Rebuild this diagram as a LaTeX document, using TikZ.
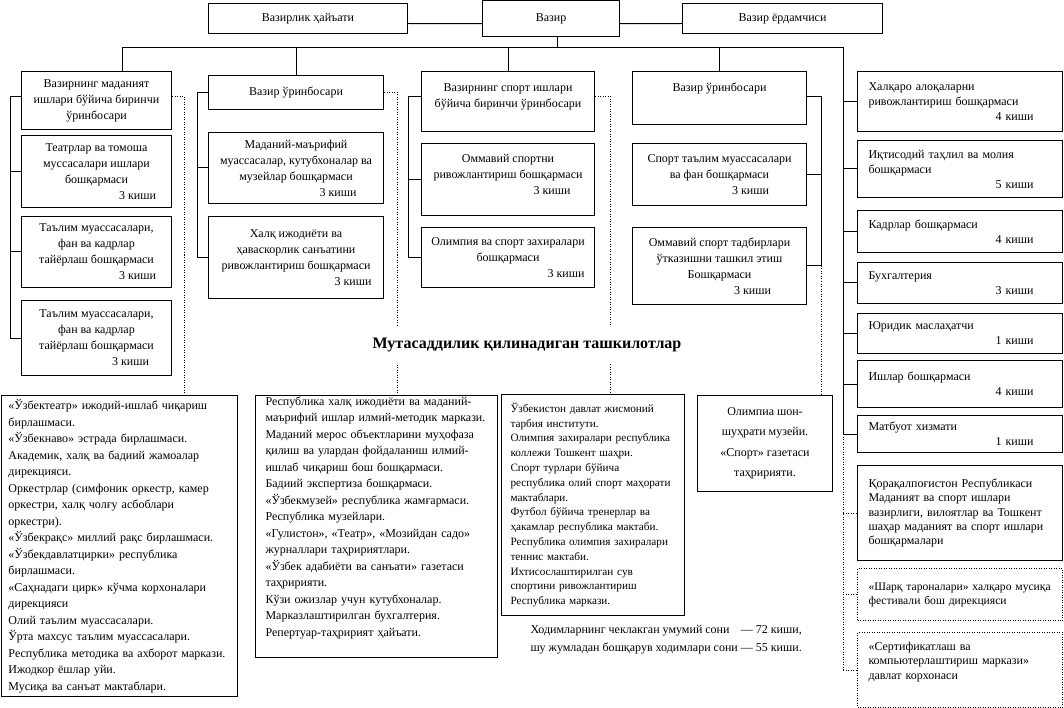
\documentclass[tikz,border=0pt]{standalone}
\usepackage{fontspec}
\setmainfont{Liberation Serif}
% last line with head count, shifted right of the centre
\newcommand{\kishi}[2]{\\\hspace*{#1pt}#2~киши}
% last line with head count, pushed to the right
\newcommand{\rkishi}[1]{\\\hspace*{0pt plus 1filll}#1~киши\hspace*{18pt}\null}

\begin{document}
\begin{tikzpicture}[x=1pt, y=-1pt, line width=1pt,
    font=\fontsize{12}{16}\selectfont,
    box/.style={draw, anchor=north west, inner sep=0pt, align=center},
    sz/.style 2 args={minimum width=#1pt, minimum height=#2pt},
    rbox/.style={box, align=left, inner xsep=11pt, text width=183pt,
      minimum width=205pt, font=\fontsize{12}{15}\selectfont},
    lbox/.style={box, align=left, font=\fontsize{12}{16.5}\selectfont},
    dotline/.style={dash pattern=on 1pt off 1.5pt},
    dotbox/.style={rbox, dotline}]
  \useasboundingbox (0,0) rectangle (1064,708);

  % top row
  \node[box, sz={199}{30}] (hayat) at (208,3) {Вазирлик ҳайъати};
  \node[box, sz={137}{35.5}] (vazir) at (482,0.5) {Вазир};
  \node[box, sz={200}{30}] (yordam) at (682,3) {Вазир ёрдамчиси};

  % first deputy, culture
  \node[box, sz={150}{58}] (b1) at (21,71) {Вазирнинг маданият\\ишлари бўйича биринчи\\ўринбосари};
  \node[box, sz={150}{72}] (c11) at (21,135) {Театрлар ва томоша\\муссасалари ишлари\\бошқармаси\kishi{82}{3}};
  \node[box, sz={150}{71}] (c12) at (21,216) {Таълим муассасалари,\\фан ва кадрлар\\тайёрлаш бошқармаси\kishi{82}{3}};
  \node[box, sz={150}{75}] (c13) at (21,300) {Таълим муассасалари,\\фан ва кадрлар\\тайёрлаш бошқармаси\kishi{68}{3}};

  % deputy, culture
  \node[box, sz={175}{34}] (b2) at (208,75) {Вазир ўринбосари};
  \node[box, sz={175}{71}] (c21) at (208,132) {Маданий-маърифий\\муассасалар, кутубхоналар ва\\музейлар бошқармаси\kishi{84}{3}};
  \node[box, sz={175}{82}] (c22) at (208,216) {Халқ ижодиёти ва\\ҳаваскорлик санъатини\\ривожлантириш бошқармаси\kishi{114}{3}};

  % first deputy, sport
  \node[box, sz={173}{60}] (b3) at (421,71) {Вазирнинг спорт ишлари\\бўйича биринчи ўринбосари\\[-4pt]~};
  \node[box, sz={173}{72}] (c31) at (421,143) {Оммавий спортни\\ривожлантириш бошқармаси\kishi{88}{3}\\[-6pt]~};
  \node[box, sz={173}{60}] (c32) at (421,227) {Олимпия ва спорт захиралари\\бошқармаси\kishi{116}{3}};

  % deputy, sport
  \node[box, sz={174}{53}] (b4) at (632,71) {Вазир ўринбосари\\[6pt]~};
  \node[box, sz={174}{62}] (c41) at (632,143) {Спорт таълим муассасалари\\ва фан бошқармаси\kishi{62}{3}};
  \node[box, sz={174}{77}] (c42) at (632,227) {Оммавий спорт тадбирлари\\ўтказишни ташкил этиш\\Бошқармаси\kishi{66}{3}};

  % units under the minister
  \node[rbox, minimum height=60pt] (r1) at (857,71) {Халқаро алоқаларни\\ривожлантириш бошқармаси\rkishi{4}};
  \node[rbox, minimum height=57pt] (r2) at (857,140) {Иқтисодий таҳлил ва молия\\бошқармаси\rkishi{5}};
  \node[rbox, minimum height=42pt] (r3) at (857,210) {Кадрлар бошқармаси\rkishi{4}};
  \node[rbox, minimum height=41pt] (r4) at (857,262) {Бухгалтерия\rkishi{3}};
  \node[rbox, minimum height=40pt] (r5) at (857,313) {Юридик маслаҳатчи\rkishi{1}};
  \node[rbox, minimum height=47pt] (r6) at (857,360) {Ишлар бошқармаси\rkishi{4}};
  \node[rbox, minimum height=37pt] (r7) at (857,415) {Матбуот хизмати\rkishi{1}};
  \node[rbox, minimum height=95pt, font=\fontsize{12}{14.3}\selectfont] (r8) at (857,465) {Қорақалпоғистон Республикаси\\Маданият ва спорт ишлари\\вазирлиги, вилоятлар ва Тошкент\\шаҳар маданият ва спорт ишлари\\бошқармалари};
  \node[dotbox, minimum height=52pt, font=\fontsize{11.6}{14}\selectfont] (r9) at (857,568) {\mbox{«Шарқ тароналари» халқаро мусиқа}\\фестивали бош дирекцияси};
  \node[dotbox, minimum height=75pt, font=\fontsize{12}{14.5}\selectfont] (r10) at (857,632) {«Сертификатлаш ва\\компьютерлаштириш маркази»\\давлат корхонаси\\[4pt]~};

  % supervised organisations
  \node[lbox, inner xsep=7pt, text width=222pt, minimum height=301pt] (l1) at (1,395) {«Ўзбектеатр» ижодий-ишлаб чиқариш\\бирлашмаси.\\«Ўзбекнаво» эстрада бирлашмаси.\\Академик, халқ ва бадиий жамоалар\\дирекцияси.\\Оркестрлар (симфоник оркестр, камер\\оркестри, халқ чолғу асбоблари\\оркестри).\\«Ўзбекрақс» миллий рақс бирлашмаси.\\«Ўзбекдавлатцирки» республика\\бирлашмаси.\\«Саҳнадаги цирк» кўчма корхоналари\\дирекцияси\\Олий таълим муассасалари.\\Ўрта махсус таълим муассасалари.\\Республика методика ва ахборот маркази.\\Ижодкор ёшлар уйи.\\Мусиқа ва санъат мактаблари.};
  \node[lbox, inner xsep=10pt, text width=222pt, minimum height=262pt] (l2) at (255,395) {Республика халқ ижодиёти ва маданий-\\маърифий ишлар илмий-методик маркази.\\Маданий мерос объектларини муҳофаза\\қилиш ва улардан фойдаланиш илмий-\\ишлаб чиқариш бош бошқармаси.\\Бадиий экспертиза бошқармаси.\\«Ўзбекмузей» республика жамғармаси.\\Республика музейлари.\\«Гулистон», «Театр», «Мозийдан садо»\\журналлари таҳририятлари.\\«Ўзбек адабиёти ва санъати» газетаси\\таҳририяти.\\Кўзи ожизлар учун кутубхоналар.\\Марказлаштирилган бухгалтерия.\\Репертуар-таҳририят ҳайъати.\\[4pt]~};
  \node[lbox, inner xsep=9pt, text width=165pt, minimum height=221pt, font=\fontsize{11.2}{14.8}\selectfont] (l3) at (501,394) {Ўзбекистон давлат жисмоний\\тарбия институти.\\Олимпия захиралари республика\\коллежи Тошкент шаҳри.\\Спорт турлари бўйича\\республика олий спорт маҳорати\\мактаблари.\\Футбол бўйича тренерлар ва\\ҳакамлар республика мактаби.\\Республика олимпия захиралари\\теннис мактаби.\\Ихтисослаштирилган сув\\спортини ривожлантириш\\Республика маркази.};
  \node[box, sz={135}{96}, font=\fontsize{12}{20.5}\selectfont] (l4) at (697,395) {Олимпиа шон-\\шуҳрати музейи.\\«Спорт» газетаси\\таҳририяти.};

  % minister and the bus
  \coordinate (busL) at (122,48);
  \coordinate (busR) at (843,48);
  \draw ([yshift=-5pt]hayat.east) -- ([yshift=-5pt]vazir.west);
  \draw ([yshift=-5pt]vazir.east) -- ([yshift=-5pt]yordam.west);
  \draw ([xshift=6pt]vazir.south) -- ([xshift=6pt]vazir.south |- busL);
  \draw (busL |- b1.north) -- (busL) -- (busR) -- (busR |- r7.west);
  \foreach \n in {b2,b3,b4}
    \draw (\n.north |- busL) -- (\n.north);
  \foreach \n in {r1,r2,r3,r4,r5,r6,r7}
    \draw (busR |- \n.west) -- (\n.west);
  \draw[dotline] (busR |- r7.west) -- (busR |- r10.west);
  \foreach \n in {r8,r9,r10}
    \draw[dotline] (busR |- \n.west) -- (\n.west);

  % deputies and their units
  \draw ([yshift=4pt]b1.west) -- ++(-11,0) coordinate (k1) |- (c13.west);
  \foreach \n in {c11,c12}
    \draw (\n.west) -- (\n.west -| k1);
  \draw (b2.west) -- ++(-11,0) coordinate (k2) |- (c22.west);
  \draw (c21.west) -- (c21.west -| k2);
  \draw ([yshift=5pt]b3.west) -- ++(-13,0) coordinate (k3) |- (c32.west);
  \draw (c31.west) -- (c31.west -| k3);
  \draw ([yshift=1pt]b4.east) -- ++(14,0) coordinate (k4) |- (c42.east);
  \draw (c41.east) -- (c41.east -| k4);

  % supervision lines
  \draw[dotline] ([yshift=4pt]b1.east) -- ++(12,0) coordinate (d1) -- (d1 |- l1.north);
  \draw[dotline] (b2.east) -- ++(13,0) coordinate (d2) -- (d2 |- l2.north);
  \draw[dotline] ([yshift=5pt]b3.east) -- ++(15,0) coordinate (d3) -- (d3 |- l3.north);
  \draw[dotline] (c42.east -| k4) -- (k4 |- l4.north);

  \node[fill=white, minimum height=38pt, inner xsep=2pt, font=\fontsize{16}{19}\selectfont\bfseries] (title) at (527,345) {Мутасаддилик қилинадиган ташкилотлар};

  \node[anchor=north west, inner sep=0pt] (jami) at (530,621) {\renewcommand{\arraystretch}{1.1}%
    \begin{tabular}{@{}l@{ }l@{}}
      Ходимларнинг чеклакган умумий сони & — 72 киши,\\
      шу жумладан бошқарув ходимлари сони & — 55 киши.
    \end{tabular}};
\end{tikzpicture}
\end{document}
